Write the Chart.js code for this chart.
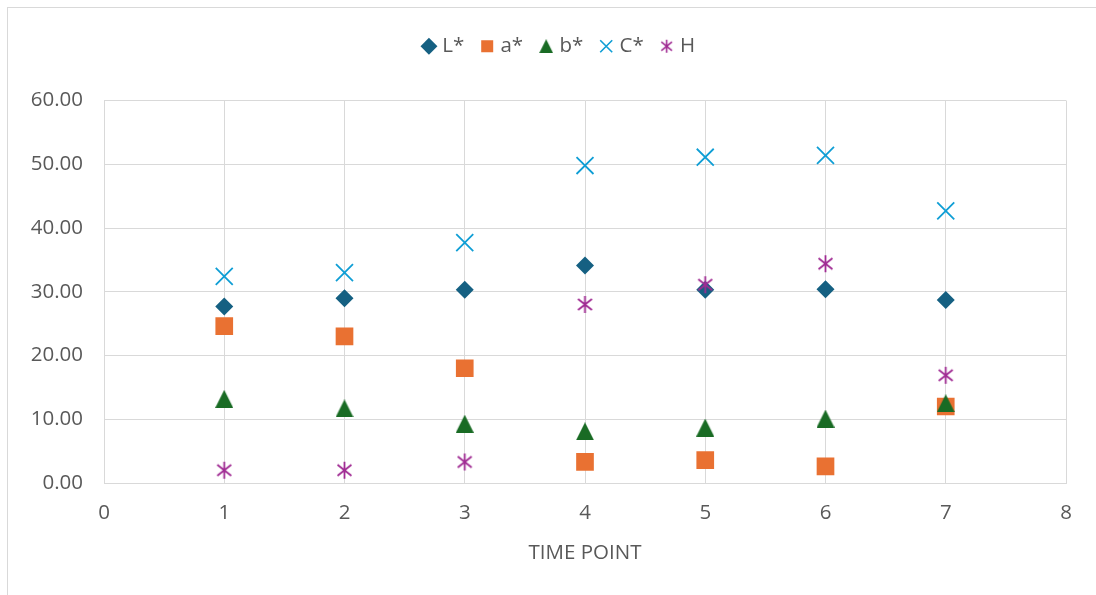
<!DOCTYPE html>
<html>
<head>
<meta charset="utf-8">
<script src="https://cdn.jsdelivr.net/npm/chart.js@4/dist/chart.umd.min.js"></script>
<style>
  html, body { margin: 0; padding: 0; background: #fff; }
  #wrap { position: relative; width: 1096px; height: 595px; overflow: hidden; }
  #frame { position: absolute; left: 7px; top: 7px; width: 1200px; height: 700px; border: 1px solid #d9d9d9; box-sizing: border-box; }
  canvas { position: absolute; left: 0; top: 0; }
</style>
</head>
<body>
<div id="wrap">
  <div id="frame"></div>
  <canvas id="c" width="1096" height="595"></canvas>
</div>
<script>
const timePoints = [1, 2, 3, 4, 5, 6, 7];
const seriesNames = ['L*', 'a*', 'b*', 'C*', 'H'];
const Lstar = [27.7, 29.0, 30.3, 34.1, 30.3, 30.4, 28.7];
const astar = [24.6, 23.0, 18.0, 3.3, 3.6, 2.6, 12.0];
const bstar = [13.2, 11.7, 9.3, 8.1, 8.7, 10.1, 12.5];
const Cstar = [32.4, 33.0, 37.7, 49.8, 51.1, 51.4, 42.7];
const Hvals = [2.0, 2.0, 3.3, 28.0, 31.1, 34.4, 16.9];
const xTicks = [0, 1, 2, 3, 4, 5, 6, 7, 8];
const yTicks = [0, 10, 20, 30, 40, 50, 60];

const colors = ['#156082', '#E97132', '#196B24', '#0F9ED5', '#A02B93'];
const FONT = "'Open Sans', 'Liberation Sans', Arial, sans-serif";
const FS = 20.5;
const TXT = '#595959';

function asterisk(size, color, lw) {
  const c = document.createElement('canvas');
  c.width = size; c.height = size;
  const g = c.getContext('2d');
  g.strokeStyle = color; g.lineWidth = lw;
  const m = size / 2, r = size / 2 - 1;
  const d = r * 0.82;
  g.beginPath();
  g.moveTo(m, m - r); g.lineTo(m, m + r);
  g.moveTo(m - d, m - d * 0.8); g.lineTo(m + d, m + d * 0.8);
  g.moveTo(m + d, m - d * 0.8); g.lineTo(m - d, m + d * 0.8);
  g.stroke();
  return c;
}
function triangleImg(size, color) {
  const c = document.createElement('canvas');
  c.width = size; c.height = size;
  const g = c.getContext('2d');
  g.fillStyle = color;
  g.beginPath();
  g.moveTo(size / 2, 0); g.lineTo(size, size); g.lineTo(0, size);
  g.closePath(); g.fill();
  return c;
}
const hStar = asterisk(19, colors[4], 1.8);
const hStarLegend = asterisk(15, colors[4], 1.6);
const tri = triangleImg(18, colors[2]);
const triLegend = triangleImg(14, colors[2]);

function pts(vals) { return timePoints.map((t, i) => ({ x: t, y: vals[i] })); }

const datasets = [
  { label: seriesNames[0], data: pts(Lstar), pointStyle: 'rectRot', pointRadius: 9, backgroundColor: colors[0], borderColor: colors[0], borderWidth: 0 },
  { label: seriesNames[1], data: pts(astar), pointStyle: 'rect', pointRadius: 12.5, backgroundColor: colors[1], borderColor: colors[1], borderWidth: 0 },
  { label: seriesNames[2], data: pts(bstar), pointStyle: tri, pointRadius: 9, backgroundColor: colors[2], borderColor: colors[2], borderWidth: 0 },
  { label: seriesNames[3], data: pts(Cstar), pointStyle: 'crossRot', pointRadius: 12, backgroundColor: colors[3], borderColor: colors[3], borderWidth: 1.8 },
  { label: seriesNames[4], data: pts(Hvals), pointStyle: hStar, pointRadius: 9, backgroundColor: colors[4], borderColor: colors[4], borderWidth: 1.8 },
];
datasets.forEach((d, i) => { d.pointHoverRadius = d.pointRadius; d.showLine = false; d.order = -i; });

const legendGap = {
  id: 'legendGap',
  beforeLayout(chart) {
    const lg = chart.legend;
    if (lg && !lg._gapPatched) {
      const f = lg.fit.bind(lg);
      lg.fit = function () { f(); this.height += 34; };
      lg._gapPatched = true;
    }
  },
  afterLayout(chart) {
    if (chart.legend) chart.legend.left += 55;
  }
};

new Chart(document.getElementById('c'), {
  type: 'scatter',
  data: { datasets },
  plugins: [legendGap],
  options: {
    responsive: false,
    animation: false,
    layout: { padding: { top: 16, right: 30, left: 0, bottom: 0 } },
    plugins: {
      legend: {
        position: 'top',
        labels: {
          font: { family: FONT, size: FS },
          color: TXT,
          usePointStyle: true,
          boxWidth: 6,
          boxHeight: 12,
          padding: 20,
          generateLabels(chart) {
            return chart.data.datasets.map((d, i) => ({
              text: d.label,
              fillStyle: d.backgroundColor,
              strokeStyle: d.borderColor,
              lineWidth: i === 3 ? 1.6 : 0,
              pointStyle: i === 4 ? hStarLegend : (i === 2 ? triLegend : d.pointStyle),
              fontColor: TXT,
              hidden: false,
              datasetIndex: i
            }));
          }
        }
      },
      tooltip: { enabled: false }
    },
    scales: {
      x: {
        type: 'linear',
        min: 0, max: 8,
        afterBuildTicks(s) { s.ticks = xTicks.map(v => ({ value: v })); },
        afterFit(s) { s.height = 112; },
        grid: { color: '#d9d9d9', lineWidth: 1, drawTicks: false },
        border: { color: '#d9d9d9' },
        ticks: { font: { family: FONT, size: FS }, color: TXT, padding: 18, callback: v => String(v) },
        title: { display: true, text: 'TIME POINT', font: { family: FONT, size: FS }, color: TXT, padding: { top: 10, bottom: 30 } }
      },
      y: {
        min: 0, max: 60,
        afterBuildTicks(s) { s.ticks = yTicks.map(v => ({ value: v })); },
        afterFit(s) { s.width = 104; },
        grid: { color: '#d9d9d9', lineWidth: 1, drawTicks: false },
        border: { color: '#d9d9d9' },
        ticks: { font: { family: FONT, size: FS }, color: TXT, padding: 21, callback: v => Number(v).toFixed(2) }
      }
    }
  }
});
</script>
</body>
</html>
